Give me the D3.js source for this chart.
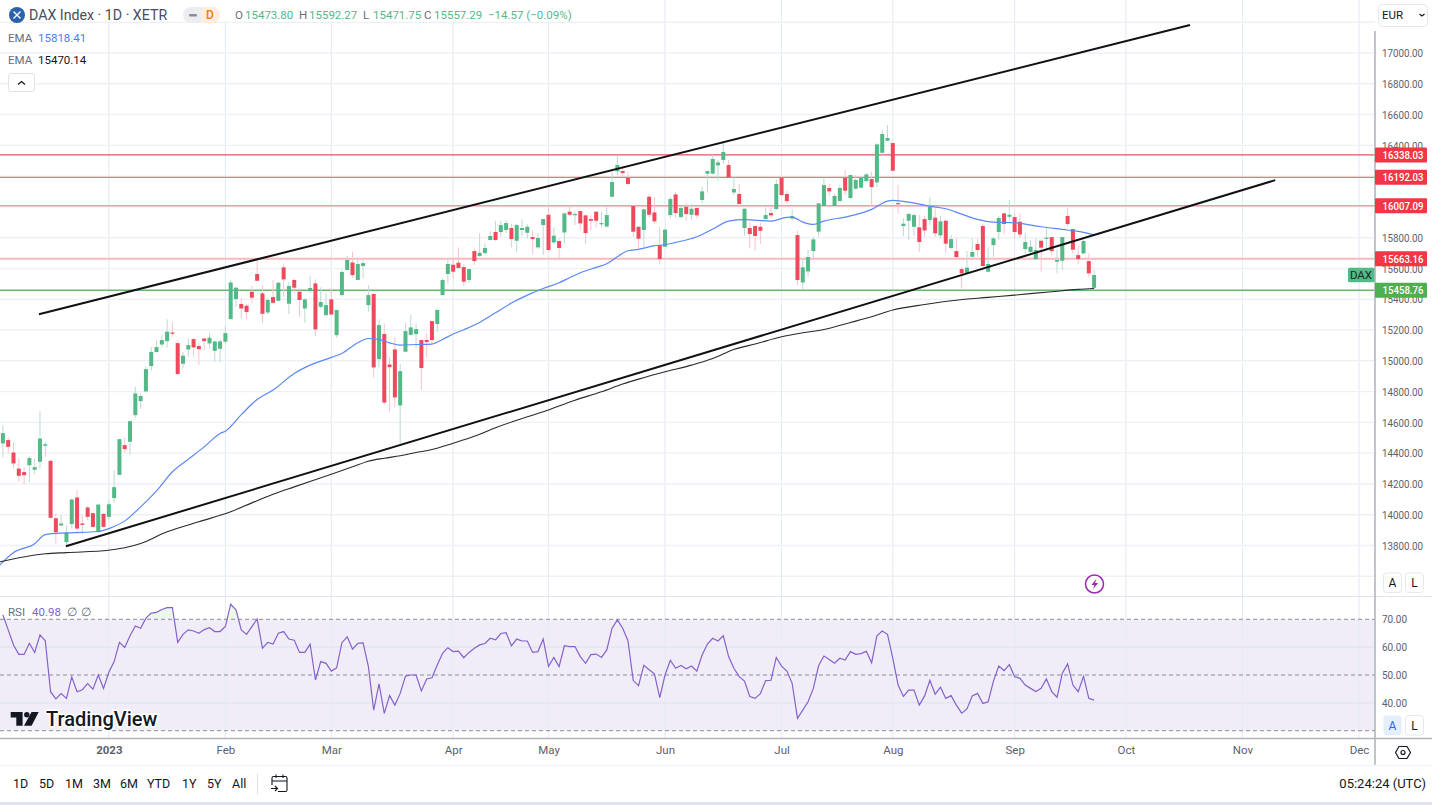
<!DOCTYPE html>
<html lang="en">
<head>
<meta charset="UTF-8">
<title>DAX Index 1D XETR</title>
<script src="https://d3js.org/d3.v7.min.js"></script>
<style>
    html, body { margin: 0; padding: 0; background: #fff; overflow: hidden; }
    svg { display: block; font-family: Roboto, sans-serif; }
    .axis .domain, .axis line { display: none; }
    .axis text { font-family: Roboto, sans-serif; }
</style>
</head>
<body>
<svg id="chart" width="1432" height="805"></svg>
<script>
// one candle per trading day, starting late Nov 2022
const open = [14463,14485,14404,14300,14277,14322,14292,14344,14448,14350,
    13977,13930,13822,13939,14112,13943,14047,14010,13889,14006,
    13986,14108,14259,14452,14474,14647,14738,14801,14966,15057,
    15106,15128,15184,15115,14981,15074,15141,15096,15145,15113,
    15065,15078,15124,15271,15401,15369,15358,15449,15564,15438,
    15314,15414,15390,15607,15371,15525,15449,15340,15453,15503,
    15351,15297,15399,15167,15427,15590,15639,15525,15616,15362,
    15434,15011,15174,14976,15074,14710,15059,15169,15174,15135,
    15135,15258,15239,15427,15564,15624,15637,15609,15525,15713,
    15681,15700,15785,15837,15837,15850,15863,15780,15850,15832,
    15804,15737,15882,15949,15769,15778,15834,15969,15947,15973,
    15945,15921,15969,15889,15873,16066,16231,16233,16190,16006,
    15871,15850,16066,15964,15752,15741,15947,16081,15934,16001,
    15949,15993,16045,16216,16216,16270,16305,16272,16094,16084,
    15863,15863,15876,15871,15921,15960,15986,16190,16084,15925,
    15817,15509,15581,15713,15839,16006,16123,16006,16038,16190,
    16058,16118,16125,16168,16181,16159,16352,16430,16415,16025,
    15876,15910,15871,15867,15921,15915,15930,15815,15910,15733,
    15713,15596,15568,15676,15759,15876,15579,15752,15837,15958,
    15936,15934,15904,15726,15707,15661,15780,15793,15804,15644,
    15650,15941,15856,15687,15698,15648,15473.80];
const high = [14582,14502,14469,14365,14311,14383,14365,14673,14474,14359,
    14008,13997,13930,14100,14160,13997,14055,14012,14068,14008,
    14090,14290,14493,14500,14610,14831,14788,14961,15091,15135,
    15167,15269,15252,15135,15059,15145,15145,15113,15147,15182,
    15130,15139,15226,15525,15480,15405,15369,15486,15659,15492,
    15405,15525,15514,15633,15514,15535,15470,15405,15551,15529,
    15477,15438,15477,15331,15590,15681,15709,15665,15665,15492,
    15438,15269,15243,15022,15152,14979,15247,15299,15243,15137,
    15178,15260,15340,15535,15665,15655,15737,15629,15600,15730,
    15828,15763,15843,15910,15910,15915,15889,15889,15919,15889,
    15850,15832,15923,16010,15867,15795,15962,16001,15969,15975,
    15949,15947,15975,15969,15997,16229,16331,16261,16227,16012,
    15873,15990,16081,16062,15871,15860,16066,16099,16006,16023,
    16019,15995,16131,16235,16337,16305,16416,16305,16192,16149,
    15990,15904,15878,15897,15997,15997,16175,16207,16103,15984,
    15845,15659,15720,15806,16025,16192,16149,16084,16142,16240,
    16209,16207,16196,16222,16229,16413,16500,16532,16417,16142,
    15925,15962,15958,15947,15941,16062,15990,15941,15921,15817,
    15795,15611,15713,15795,15795,15893,15737,15806,15943,15962,
    16045,15958,15958,15832,15785,15795,15789,15871,15806,15724,
    15806,15990,15858,15746,15785,15698,15592.27];
const low = [14372,14398,14300,14214,14199,14214,14264,14300,14376,13975,
    13813,13925,13795,13910,13889,13873,13964,13917,13882,13917,
    13969,14082,14257,14404,14391,14630,14690,14799,14935,15055,
    15087,15085,15156,14912,14950,15026,15026,14972,15070,15080,
    14994,14994,15113,15269,15351,15275,15271,15373,15518,15247,
    15304,15369,15388,15416,15304,15438,15286,15247,15442,15161,
    15340,15291,15297,15152,15416,15588,15542,15523,15535,15319,
    14890,14955,14719,14669,14697,14459,15057,15163,15080,14810,
    15022,15109,15189,15425,15503,15535,15600,15486,15507,15622,
    15676,15694,15783,15780,15806,15832,15737,15709,15806,15795,
    15694,15724,15687,15709,15763,15665,15763,15941,15882,15850,
    15759,15850,15867,15867,15863,16064,16207,16196,16144,15806,
    15730,15741,15932,15889,15629,15739,15925,15925,15925,15910,
    15915,15925,16023,16092,16211,16168,16279,16190,16077,16001,
    15813,15730,15715,15759,15919,15925,15980,16071,16023,15910,
    15492,15460,15546,15659,15806,16004,16071,16004,16034,16077,
    16051,16114,16120,16164,16006,16131,16337,16428,16233,15954,
    15811,15785,15811,15707,15806,15882,15806,15795,15702,15724,
    15661,15470,15564,15670,15676,15614,15577,15676,15785,15824,
    15915,15795,15795,15694,15694,15655,15579,15720,15687,15568,
    15590,15871,15698,15629,15694,15546,15471.75];
const close = [14530,14441,14333,14253,14257,14368,14309,14495,14458,13980,
    13886,13943,13884,14099,13910,13934,13986,13921,14066,13921,
    14068,14179,14491,14426,14608,14788,14771,14946,15057,15089,
    15135,15189,15176,14914,15033,15102,15087,15076,15128,15150,
    15126,15126,15180,15509,15475,15340,15317,15410,15520,15306,
    15395,15377,15507,15529,15486,15475,15395,15399,15473,15204,
    15382,15362,15301,15330,15577,15655,15557,15629,15635,15427,
    14957,15232,14729,14959,14762,14933,15193,15217,15206,14953,
    15122,15135,15330,15525,15629,15579,15603,15514,15596,15648,
    15702,15733,15811,15785,15882,15895,15791,15882,15863,15871,
    15791,15798,15921,15720,15813,15733,15958,15949,15954,15893,
    15830,15910,15910,15895,15947,16162,16272,16220,16149,15839,
    15793,15984,15949,15906,15661,15852,16051,15960,15993,15954,
    15988,15945,16101,16233,16311,16289,16357,16192,16116,16019,
    15988,15824,15811,15845,15947,15945,16149,16077,16038,15941,
    15525,15607,15674,15789,16023,16142,16101,16071,16123,16105,
    16207,16175,16190,16211,16129,16406,16474,16448,16235,16019,
    15891,15954,15947,15772,15847,16001,15828,15906,15761,15791,
    15674,15568,15605,15707,15720,15616,15629,15795,15928,15889,
    15949,15837,15821,15772,15741,15720,15735,15800,15713,15655,
    15804,15889,15722,15661,15778,15568,15557.29];

// EMAs read at the bends of each curve
const emaFastDays = [-0.6,2,6,8,12,18,20,23,26,29,32,35,38,41,42,45,48,51,55,58,62,64,67,69,71,73,75,78,81,83,85,87,90,93,96,99,102,105,107,109,112,114,116,118,120,123,125,127,131,134,137,140,145,148,149,151,153,155,159,164,167,168,171,172,175,178,181,184,187,191,196,200,203,206];
const emaFast = [13672,13754,13812,13871,13882,13891,13910,13960,14051,14155,14279,14361,14441,14528,14543,14650,14749,14810,14918,14972,15022,15048,15117,15145,15139,15117,15102,15106,15109,15139,15174,15202,15249,15312,15375,15427,15470,15507,15540,15572,15607,15631,15676,15715,15724,15748,15754,15769,15806,15856,15908,15917,15908,15932,15934,15901,15886,15908,15934,15984,16038,16042,16031,16025,16005,15988,15953,15919,15901,15897,15871,15854,15841,15818.41];
const emaSlowDays = [-0.6,8,12,20,23,26,31,37,43,47,51,55,62,66,69,72,75,78,81,85,89,93,97,102,108,113,117,120,125,130,134,138,142,147,151,155,160,164,168,174,180,186,191,198,203,206];
const emaSlow = [13694,13746,13754,13769,13785,13813,13889,13954,14019,14077,14133,14181,14263,14311,14348,14367,14383,14404,14424,14465,14510,14565,14614,14669,14744,14799,14849,14881,14929,14972,15015,15074,15109,15156,15182,15204,15249,15286,15330,15366,15394,15412,15427,15449,15464,15470.14];

const rsi = [71.6,66.2,60.8,57.4,57.4,61.4,58.1,64.4,62.3,44.0,
    41.4,43.3,41.6,49.3,44.0,44.7,46.9,44.9,50.0,45.2,
    51.0,54.8,61.7,59.9,64.1,67.6,66.8,70.4,72.2,72.5,
    73.5,74.2,74.2,61.7,64.6,66.2,65.8,65.0,66.3,67.0,
    65.6,65.6,67.4,75.4,73.4,66.2,64.6,67.4,70.1,59.6,
    61.7,61.1,65.0,65.6,62.9,62.5,58.1,58.1,61.1,48.2,
    54.8,54.2,51.4,52.6,61.6,63.7,59.3,61.4,61.5,53.0,
    37.4,46.8,36.2,42.6,39.2,43.4,49.6,50.0,50.0,44.3,
    48.6,49.0,53.6,57.8,59.8,58.4,58.6,56.2,58.1,59.6,
    60.8,61.3,63.2,62.6,64.9,65.2,60.5,62.9,62.2,62.2,
    58.1,58.4,62.9,53.1,56.3,53.0,60.5,60.2,60.2,56.6,
    54.2,57.3,57.5,56.3,59.0,66.8,69.8,66.8,62.3,48.0,
    46.2,53.5,51.9,50.4,41.9,50.0,55.3,52.4,53.4,52.2,
    53.2,51.4,57.2,61.1,63.2,62.2,64.1,56.6,52.4,49.4,
    47.8,42.3,41.6,43.3,48.0,48.1,56.3,53.2,51.4,47.0,
    34.4,37.4,40.4,45.2,53.4,56.8,55.6,54.2,56.0,55.4,
    58.4,57.4,57.7,58.5,54.4,64.1,65.8,64.6,56.0,46.4,
    42.3,44.6,44.6,39.2,42.5,48.1,43.1,45.6,41.6,42.6,
    39.2,36.3,37.8,42.5,43.4,39.8,40.4,47.8,53.2,51.6,
    53.7,49.4,48.8,46.4,45.2,44.1,45.2,48.6,44.0,42.0,
    50.6,54.0,46.4,44.0,49.5,41.6,40.98];

const priceTicks = [17000,16800,16600,16400,16200,16000,15800,15600,15400,15200,15000,14800,14600,14400,14200,14000,13800];
const priceGrid = [17200, ...priceTicks, 13600];
const rsiTicks = [70,60,50,40];
const rsiBands = [70,50,30];
const monthLabels = ["2023","Feb","Mar","Apr","May","Jun","Jul","Aug","Sep","Oct","Nov","Dec"];
const monthDays = [20,42,62,85,103,125,147,168,191,212,234,256];

// support and resistance levels
const levels = [16338.03,16192.03,16007.09,15663.16,15458.76];
const levelColors = ["#e5525f","#ec7684","#f49aa4","#fbb8bd","#66bb6a"];
const levelWidths = [1.2,1.2,1.6,2,1.4];

// trend lines as [day, price] ends
const upperChannel = [[6.8,15303],[224.1,17182]];
const lowerChannel = [[11.9,13795],[240.2,16174]];

const ranges = ["1D","5D","1M","3M","6M","YTD","1Y","5Y","All"];
const rangeX = [13,39,65,93,120,147,182,207,232];

const svg = d3.select("#chart");
const axisColor = "#b2b5be", gridColor = "#edf1f6", labelColor = "#5d606b";
const upColor = "#53b987", downColor = "#ee4a5e";

const x = d3.scaleLinear().domain([0,206]).range([2.9,1094.1]);
const y = d3.scaleLinear().domain([13800,17000]).range([545.5,53]);
const yRsi = d3.scaleLinear().domain([30,70]).range([730.7,619.3]);

const defs = svg.append("defs");
defs.append("clipPath").attr("id","pricePane").append("rect").attr("width",1375).attr("height",596);
defs.append("clipPath").attr("id","rsiPane").append("rect").attr("y",597).attr("width",1375).attr("height",141);
defs.append("clipPath").attr("id","overbought").append("rect").attr("y",597).attr("width",1375).attr("height",yRsi(70)-597);

// grids
const grid = svg.append("g");
grid.selectAll(".vgrid").data(monthDays).enter().append("line")
    .attr("x1",d => x(d)).attr("x2",d => x(d)).attr("y1",0).attr("y2",738)
    .attr("stroke","#e6ecf3").attr("stroke-width",1.2);
grid.selectAll(".hgrid").data(priceGrid).enter().append("line")
    .attr("x1",0).attr("x2",1375).attr("y1",d => y(d)).attr("y2",d => y(d))
    .attr("stroke",gridColor).attr("stroke-width",1.4);

// rsi background
svg.append("rect").attr("x",0).attr("width",1375)
    .attr("y",yRsi(70)).attr("height",yRsi(30)-yRsi(70))
    .attr("fill","#7e57c2").attr("fill-opacity",0.11);
grid.raise();
svg.selectAll(".rsigrid").data([60,40]).enter().append("line")
    .attr("x1",0).attr("x2",1375).attr("y1",d => yRsi(d)).attr("y2",d => yRsi(d))
    .attr("stroke","#dfe3f0").attr("stroke-width",1.2);
svg.selectAll(".rsiband").data(rsiBands).enter().append("line")
    .attr("x1",0).attr("x2",1375).attr("y1",d => yRsi(d)).attr("y2",d => yRsi(d))
    .attr("stroke","#8a8d98").attr("stroke-dasharray","4 3");

// pane divider
svg.append("line").attr("x1",0).attr("x2",1432).attr("y1",596.5).attr("y2",596.5)
    .attr("stroke","#e0e3eb").attr("stroke-width",1.2);

const price = svg.append("g").attr("clip-path","url(#pricePane)");

price.selectAll(".level").data(levels).enter().append("line")
    .attr("x1",0).attr("x2",1375).attr("y1",d => y(d)).attr("y2",d => y(d))
    .attr("stroke",(d,i) => levelColors[i]).attr("stroke-width",(d,i) => levelWidths[i]);

const candles = price.selectAll(".candle").data(d3.range(open.length)).enter().append("g");
candles.append("line")
    .attr("x1",i => x(i)).attr("x2",i => x(i))
    .attr("y1",i => y(high[i])).attr("y2",i => y(low[i]))
    .attr("stroke",i => close[i] >= open[i] ? "#bcd8d6" : "#f8c4cb")
    .attr("stroke-width",1);
candles.append("rect")
    .attr("x",i => x(i)-2).attr("width",4)
    .attr("y",i => y(Math.max(open[i],close[i])))
    .attr("height",i => Math.max(1.2,Math.abs(y(open[i])-y(close[i]))))
    .attr("fill",i => close[i] >= open[i] ? upColor : downColor);

const emaLine = (days, values, color, width) => price.append("path")
    .datum(days.map((d,i) => [d,values[i]]))
    .attr("fill","none").attr("stroke",color).attr("stroke-width",width)
    .attr("d",d3.line().x(d => x(d[0])).y(d => y(d[1])).curve(d3.curveMonotoneX));
emaLine(emaFastDays,emaFast,"#5a88f7",1.2);
emaLine(emaSlowDays,emaSlow,"#2a2a2a",1.1);

[upperChannel,lowerChannel].forEach(ends => {
    price.append("line")
        .attr("x1",x(ends[0][0])).attr("y1",y(ends[0][1]))
        .attr("x2",x(ends[1][0])).attr("y2",y(ends[1][1]))
        .attr("stroke","#111").attr("stroke-width",2);
});

// rsi line
const rsiG = svg.append("g").attr("clip-path","url(#rsiPane)");
const rsiLine = d3.line().x((d,i) => x(i)).y(d => yRsi(d));
rsiG.append("path").datum(rsi).attr("clip-path","url(#overbought)")
    .attr("fill","#4caf50").attr("fill-opacity",0.1)
    .attr("d",d3.area().x((d,i) => x(i)).y0(yRsi(70)).y1(d => yRsi(d)));
rsiG.append("path").datum(rsi).attr("fill","none")
    .attr("stroke","#8462cc").attr("stroke-width",1.2).attr("d",rsiLine);

// right and bottom axes, the reference digits run narrower than Roboto
const priceAxis = d3.axisRight(y).tickValues(priceTicks).tickFormat(d3.format(".2f")).tickSize(0).tickPadding(0);
svg.append("g").attr("class","axis").attr("transform","translate(1382,0)").call(priceAxis)
    .selectAll("text").attr("fill",labelColor).attr("font-size",11.5)
    .attr("textLength",41).attr("lengthAdjust","spacingAndGlyphs");
const rsiAxis = d3.axisRight(yRsi).tickValues(rsiTicks).tickFormat(d3.format(".2f")).tickSize(0).tickPadding(0);
svg.append("g").attr("class","axis").attr("transform","translate(1382,0)").call(rsiAxis)
    .selectAll("text").attr("fill",labelColor).attr("font-size",11.5)
    .attr("textLength",25).attr("lengthAdjust","spacingAndGlyphs");
const timeAxis = d3.axisBottom(x).tickValues(monthDays).tickFormat((d,i) => monthLabels[i]).tickSize(0).tickPadding(0);
svg.append("g").attr("class","axis").attr("transform","translate(0,746)").call(timeAxis)
    .selectAll("text").attr("fill",labelColor).attr("font-size",11.5)
    .attr("font-weight",(d,i) => i === 0 ? 700 : 400);

svg.append("line").attr("x1",1375).attr("x2",1375).attr("y1",31).attr("y2",765).attr("stroke",axisColor).attr("stroke-width",1.6);
svg.append("line").attr("x1",0).attr("x2",1432).attr("y1",738.5).attr("y2",738.5).attr("stroke",axisColor).attr("stroke-width",1.6);
svg.append("line").attr("x1",0).attr("x2",1432).attr("y1",765.5).attr("y2",765.5).attr("stroke","#f0f3fa").attr("stroke-width",1.6);
svg.append("rect").attr("x",0).attr("y",802).attr("width",1432).attr("height",3).attr("fill","#e0e3eb");

// price tags
const tags = svg.selectAll(".tag").data(levels).enter().append("g")
    .attr("transform",d => `translate(1375,${y(d)})`);
tags.append("rect").attr("y",-7.5).attr("width",52).attr("height",15).attr("rx",1)
    .attr("fill",(d,i) => i === 4 ? "#4caf50" : "#f23645");
tags.append("text").attr("x",7.5).attr("dy","0.35em").attr("fill","#fff")
    .attr("font-size",11.5).attr("font-weight",500).text(d => d.toFixed(2))
    .attr("textLength",41).attr("lengthAdjust","spacingAndGlyphs");

const lastTag = svg.append("g").attr("transform",`translate(1348,${y(close[close.length-1])})`);
lastTag.append("rect").attr("y",-7.3).attr("width",26.5).attr("height",14.6).attr("rx",1.5).attr("fill",upColor);
lastTag.append("text").attr("x",13).attr("text-anchor","middle").attr("dy","0.35em")
    .attr("font-size",11.5).attr("fill","#1c2a25").text("DAX");

// legend
svg.append("rect").attr("x",0).attr("y",0).attr("width",600).attr("height",21.5).attr("fill","#fff");
const text = (xPos, yPos, str, color, size, extra) => {
    const t = svg.append("text").attr("x",xPos).attr("y",yPos).attr("fill",color)
        .attr("font-size",size).attr("dy","0.35em").text(str);
    if (extra) extra(t);
    return t;
};
svg.append("circle").attr("cx",17).attr("cy",15).attr("r",8).attr("fill","#2b62ab");
svg.append("path").attr("d","M13.5 11.5L20.5 18.5M20.5 11.5L13.5 18.5").attr("stroke","#fff").attr("stroke-width",1.4);
text(29,15,"DAX Index · 1D · XETR","#4a4e59",14.2);
svg.append("rect").attr("x",183).attr("y",7).attr("width",37).attr("height",16).attr("rx",8).attr("fill","#ebedf1");
svg.append("path").attr("d","M201 7h11a8 8 0 0 1 0 16h-11z").attr("fill","#ffeedd");
svg.append("rect").attr("x",189).attr("y",14).attr("width",8).attr("height",2.4).attr("rx",1).attr("fill","#8a8d98");
text(206,15,"D","#f57c00",12,t => t.attr("font-weight",500));

const ohlcLabels = ["O","H","L","C"];
const ohlcKeyX = [235,299,363,424];
ohlcLabels.forEach((k,i) => {
    text(ohlcKeyX[i],15,k,"#6a6d78",11.5);
    text(ohlcKeyX[i]+10,15,[open,high,low,close][i][206].toFixed(2),"#53b987",11.5);
});
text(488,15,"−14.57 (−0.09%)","#53b987",11.5);

text(8,38,"EMA","#6a6d78",11.5);
text(38,38,"15818.41","#4a7dfb",11.5);
text(8,60,"EMA","#6a6d78",11.5);
text(38,60,"15470.14","#131722",11.5);
svg.append("rect").attr("x",8.5).attr("y",73.5).attr("width",26).attr("height",18).attr("rx",2.5).attr("fill","#fff").attr("stroke","#e0e3eb");
svg.append("path").attr("d","M18 84.5l3.5-3 3.5 3").attr("fill","none").attr("stroke","#131722").attr("stroke-width",1.3);

// rsi legend
text(8,612,"RSI","#6a6d78",11.5);
text(32,612,"40.98","#8462cc",11.5);
text(67,612,"∅","#6a6d78",11.5);
text(81,612,"∅","#6a6d78",11.5);

// watermark
const logo = svg.append("g").attr("fill","#131722");
logo.append("path").attr("d","M10.7 712H22.6V725.7H16.3V717.4H10.7Z");
logo.append("circle").attr("cx",26.8).attr("cy",714.7).attr("r",2.7);
logo.append("path").attr("d","M31.5 712H38.7L31.6 725.7H24Z");
svg.append("text").attr("x",46).attr("y",726).attr("font-size",20).attr("font-weight",500)
    .attr("fill","#131722").attr("stroke","#fff").attr("stroke-width",3).attr("paint-order","stroke")
    .text("TradingView");

// currency box
svg.append("rect").attr("x",1378.5).attr("y",4.5).attr("width",49).attr("height",22).attr("rx",4).attr("fill","#fff").attr("stroke","#e6e8ef");
text(1382,15,"EUR","#131722",11.5);
svg.append("path").attr("d","M1419.5 14l2.5 2 2.5-2").attr("fill","none").attr("stroke","#131722").attr("stroke-width",1.2);

// scale buttons
const scaleBtn = (bx, by, label, active) => {
    svg.append("rect").attr("x",bx).attr("y",by).attr("width",18).attr("height",19.5).attr("rx",3)
        .attr("fill",active ? "#e3effd" : "#fff").attr("stroke",active ? "none" : "#e6e8ef");
    text(bx+9,by+10,label,active ? "#2962ff" : "#131722",12,t => t.attr("text-anchor","middle"));
};
scaleBtn(1383.5,573,"A",false);
scaleBtn(1405.5,573,"L",false);
scaleBtn(1383.5,715.5,"A",true);
scaleBtn(1405.5,715.5,"L",false);

// settings hexagon
svg.append("path").attr("d","M1399 746.5h8l3.5 6-3.5 6h-8l-3.5-6z").attr("fill","none").attr("stroke","#131722").attr("stroke-width",1.2).attr("stroke-linejoin","round");
svg.append("circle").attr("cx",1403).attr("cy",752.5).attr("r",2).attr("fill","none").attr("stroke","#131722").attr("stroke-width",1.2);

// lightning badge
svg.append("circle").attr("cx",1094.5).attr("cy",584).attr("r",9).attr("fill","#fff").attr("stroke","#9c27b0").attr("stroke-width",1.5);
svg.append("path").attr("d","M1096.5 578.5l-5 6.5h3l-1.5 4.5 5-6.5h-3z").attr("fill","#9c27b0");

// bottom toolbar
ranges.forEach((r,i) => text(rangeX[i],784,r,"#131722",12.5));
svg.append("line").attr("x1",257.5).attr("x2",257.5).attr("y1",773).attr("y2",795).attr("stroke","#e0e3eb");
svg.append("path").attr("d","M272 785V778a1.5 1.5 0 0 1 1.5-1.5h12a1.5 1.5 0 0 1 1.5 1.5V790a1.5 1.5 0 0 1-1.5 1.5H278M272 781H287M276 774.5V778M283 774.5V778M271 788.5H277M275 786l2.5 2.5-2.5 2.5")
    .attr("fill","none").attr("stroke","#131722").attr("stroke-width",1.1);
text(1426,783,"05:24:24 (UTC)","#131722",13,t => t.attr("text-anchor","end"));
</script>
</body>
</html>
